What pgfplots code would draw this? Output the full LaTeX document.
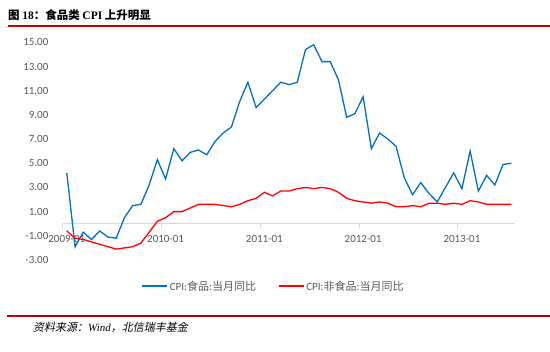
\documentclass[border=0pt]{standalone}
\usepackage{pgfplots}
\pgfplotsset{compat=1.18}
\usepackage{fontspec}
\setmainfont{Carlito}
\newfontfamily\cjk{Noto Sans CJK SC}
\newfontfamily\cjkit[FakeSlant=0.2]{Noto Sans CJK SC}
\newfontfamily\tnr{Liberation Serif}
\definecolor{fblue}{RGB}{0,112,192}
\definecolor{lgray}{RGB}{217,217,217}
\definecolor{tgray}{RGB}{89,89,89}
\definecolor{dred}{RGB}{192,0,0}
\pgfplotstableread{
i food nonfood
0 4.2 -0.6
1 -1.9 -1.2
2 -0.7 -1.3
3 -1.3 -1.5
4 -0.6 -1.7
5 -1.1 -1.9
6 -1.2 -2.1
7 0.5 -2.0
8 1.5 -1.9
9 1.6 -1.6
10 3.2 -0.7
11 5.3 0.2
12 3.7 0.5
13 6.2 1.0
14 5.2 1.0
15 5.9 1.3
16 6.1 1.6
17 5.7 1.6
18 6.8 1.6
19 7.5 1.5
20 8.0 1.4
21 10.1 1.6
22 11.7 1.9
23 9.6 2.1
24 10.3 2.6
25 11.0 2.3
26 11.7 2.7
27 11.5 2.7
28 11.7 2.9
29 14.4 3.0
30 14.8 2.9
31 13.4 3.0
32 13.4 2.9
33 11.9 2.6
34 8.8 2.1
35 9.1 1.9
36 10.5 1.8
37 6.2 1.7
38 7.5 1.8
39 7.0 1.7
40 6.4 1.4
41 3.8 1.4
42 2.4 1.5
43 3.4 1.4
44 2.5 1.7
45 1.8 1.7
46 3.0 1.6
47 4.2 1.7
48 2.9 1.6
49 6.0 1.9
50 2.7 1.8
51 4.0 1.6
52 3.2 1.6
53 4.9 1.6
54 5.0 1.6
}\cpidata
\begin{document}
\begin{tikzpicture}[x=1bp,y=1bp]
\useasboundingbox (0,0) rectangle (550,351);
\node[anchor=west,inner sep=0] at (8,335.5) {\fontsize{11.5bp}{13bp}\selectfont\cjk\bfseries 图\ {\tnr 18}：食品类 {\tnr CPI} 上升明显};
\draw[dred,line width=1.5bp] (8,325) -- (550,325);
\draw[dred,line width=1.5bp] (7,35) -- (550,35);
\node[anchor=west,inner sep=0] at (33,24) {\fontsize{11bp}{13bp}\selectfont\cjkit 资料来源：{\tnr\itshape Wind}，北信瑞丰基金};
\begin{axis}[
  at={(62.7bp,91bp)}, anchor=south west, scale only axis,
  width=452.7bp, height=217.7bp,
  xmin=-0.5, xmax=54.5, ymin=-3, ymax=15,
  axis x line=middle, axis y line=left,
  axis line style={-},
  y axis line style={draw=none},
  x axis line style={lgray, line width=0.75bp},
  ytick={-3,-1,1,3,5,7,9,11,13,15},
  yticklabels={-3.00,-1.00,1.00,3.00,5.00,7.00,9.00,11.00,13.00,15.00},
  ytick style={draw=none},
  xtick={0,12,24,36,48},
  xticklabels={2009-01,2010-01,2011-01,2012-01,2013-01},
  xtick style={draw=none},
  extra x ticks={-0.5,11.5,23.5,35.5,47.5},
  extra x tick labels={},
  extra x tick style={major tick length=4bp, tick align=outside, xtick style={draw=lgray, line width=0.75bp}},
  tick label style={font=\fontsize{11bp}{13bp}\selectfont, text=tgray},
  yticklabel style={xshift=-8.7bp},
  xticklabel style={yshift=-6bp},
  clip=false,
  legend columns=2,
  legend style={at={(0.4657,-0.12)}, anchor=center, draw=none, fill=none,
    font=\fontsize{11bp}{13bp}\selectfont, text=tgray,
    /tikz/every even column/.append style={column sep=20bp}},
  legend image code/.code={\draw[#1] (0bp,0bp) -- (25bp,0bp);},
]
\addplot[fblue, line width=1.3bp] table[x=i, y=food] {\cpidata};
\addlegendentry{CPI:{\cjk 食品}:{\cjk 当月同比}}
\addplot[red, line width=1.3bp] table[x=i, y=nonfood] {\cpidata};
\addlegendentry{CPI:{\cjk 非食品}:{\cjk 当月同比}}
\end{axis}
\end{tikzpicture}
\end{document}
